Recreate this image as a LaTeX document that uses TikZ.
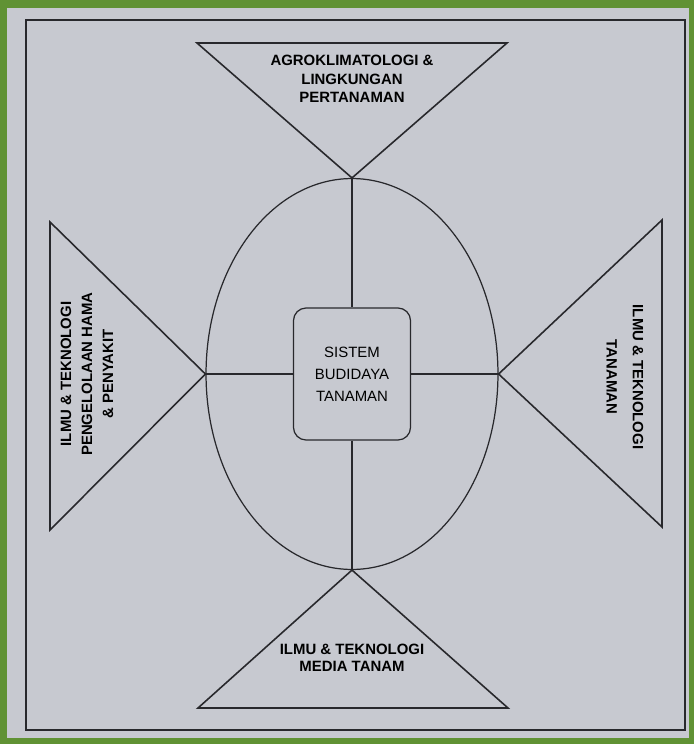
\documentclass[tikz,border=0pt]{standalone}
\usepackage{fontspec}
\setmainfont{Liberation Sans}
\usetikzlibrary{shapes.geometric}
\definecolor{boardgray}{RGB}{199,201,208}
\definecolor{framegreen}{RGB}{96,146,52}
\definecolor{inkgray}{RGB}{40,40,44}

\begin{document}
\begin{tikzpicture}[x=0.02cm, y=-0.02cm,
  wedge/.style={draw=inkgray, line width=0.9pt, line join=miter},
  link/.style={draw=inkgray, line width=1.4pt},
  subject/.style={font=\fontsize{8.5}{10.5}\selectfont\bfseries, text=black, align=center, inner sep=0pt},
  core/.style={rectangle, draw=inkgray, line width=0.7pt, rounded corners=0.25cm, minimum width=2.34cm, minimum height=2.64cm, align=center, text=black, font=\fontsize{8.5}{12.5}\selectfont},
]
\useasboundingbox (0,0) rectangle (694,744);
% board
\fill[framegreen] (0,0) rectangle (694,744);
\fill[boardgray] (7,8) rectangle (689,738);
\draw[inkgray, line width=0.8pt] (26,20) rectangle (685,730);

\node[ellipse, draw=inkgray, line width=0.7pt, minimum width=5.84cm, minimum height=7.82cm, inner sep=0pt] (oval) at (352,374) {};
\node[core] (sys) at (352,374) {SISTEM\\BUDIDAYA\\TANAMAN};

% four triangles on the oval
\draw[wedge] (197,43) -- (507,43) -- (oval.north) -- cycle;
\draw[wedge] (50,222) -- (oval.west) -- (50,530) -- cycle;
\draw[wedge] (662,220) -- (oval.east) -- (662,527) -- cycle;
\draw[wedge] (198,708) -- (oval.south) -- (508,708) -- cycle;

\node[subject] (agro) at (352,79) {AGROKLIMATOLOGI \&\\LINGKUNGAN\\PERTANAMAN};
\node[subject, rotate=90, font=\fontsize{8.5}{12}\selectfont\bfseries] (hama) at (87,374) {ILMU \& TEKNOLOGI\\PENGELOLAAN HAMA\\\& PENYAKIT};
\node[subject, rotate=-90, font=\fontsize{8.5}{15}\selectfont\bfseries] (tanaman) at (625,377) {ILMU \& TEKNOLOGI\\TANAMAN};
\node[subject, font=\fontsize{8.5}{9.5}\selectfont\bfseries] (media) at (352,658) {ILMU \& TEKNOLOGI\\MEDIA TANAM};

\draw[link] (oval.north) -- (sys);
\draw[link] (sys) -- (oval.south);
\draw[link] (oval.west) -- (sys);
\draw[link] (sys) -- (oval.east);
\end{tikzpicture}
\end{document}
